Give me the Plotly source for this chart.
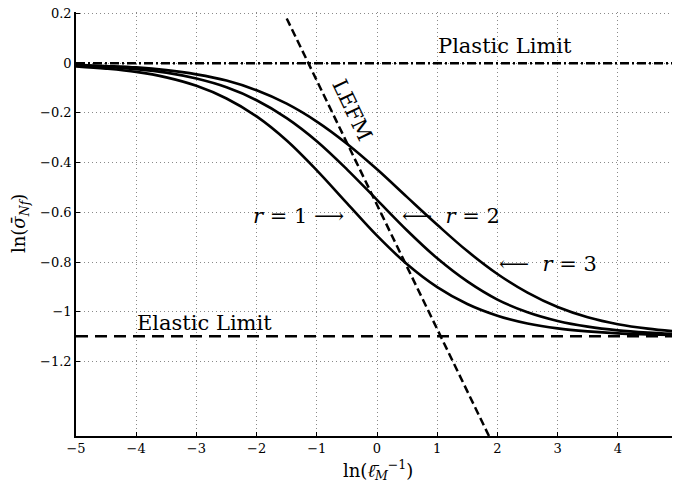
import plotly.graph_objects as go

# x grid of read points
x_pts = [-5, -4.5, -4, -3.5, -3, -2.5, -2, -1.5, -1, -0.5, 0, 0.5, 1, 1.5, 2, 2.5, 3, 3.5, 4, 4.5, 5]

r1 = [-0.013, -0.022, -0.035, -0.057, -0.091, -0.142, -0.214, -0.311, -0.431, -0.563, -0.694,
      -0.809, -0.901, -0.969, -1.016, -1.047, -1.067, -1.079, -1.087, -1.091, -1.094]
r2 = [-0.009, -0.015, -0.024, -0.038, -0.062, -0.097, -0.149, -0.221, -0.314, -0.427, -0.550,
      -0.673, -0.785, -0.878, -0.951, -1.002, -1.037, -1.060, -1.075, -1.084, -1.090]
r3 = [-0.006, -0.011, -0.017, -0.028, -0.045, -0.070, -0.109, -0.163, -0.235, -0.324, -0.427,
      -0.539, -0.650, -0.756, -0.848, -0.923, -0.981, -1.022, -1.050, -1.068, -1.080]

lefm_x = [-1.5, 1.86]
lefm_y = [0.18, -1.5]

plastic_y = 0.0
elastic_y = -1.0986
limit_x = [-5, 5]

x_ticks = [-5, -4, -3, -2, -1, 0, 1, 2, 3, 4, 5]
y_ticks = [0.2, 0, -0.2, -0.4, -0.6, -0.8, -1, -1.2]

FONT = "DejaVu Serif"
fig = go.Figure()

fig.add_trace(go.Scatter(x=limit_x, y=[plastic_y, plastic_y], mode="lines",
                         line=dict(color="black", width=2.5, dash="9px,3px,2px,3px"), showlegend=False))
fig.add_trace(go.Scatter(x=limit_x, y=[elastic_y, elastic_y], mode="lines",
                         line=dict(color="black", width=2.5, dash="12px,7px"), showlegend=False))
fig.add_trace(go.Scatter(x=lefm_x, y=lefm_y, mode="lines",
                         line=dict(color="black", width=2.5, dash="8px,4px"), showlegend=False))
for ys in (r1, r2, r3):
    fig.add_trace(go.Scatter(x=x_pts, y=ys, mode="lines",
                             line=dict(color="black", width=2.6, shape="spline", smoothing=1.0),
                             showlegend=False))

ann_font = dict(family=FONT, size=21, color="black")
annotations = [
    dict(x=2.13, y=0.071, text="Plastic Limit"),
    dict(x=-2.86, y=-1.047, text="Elastic Limit"),
    dict(x=-0.42, y=-0.19, text="LEFM", textangle=64.4),
    dict(x=-1.30, y=-0.613, text="<i>r</i> = 1 ⟶"),
    dict(x=1.23, y=-0.613, text="⟵  <i>r</i> = 2"),
    dict(x=2.84, y=-0.808, text="⟵  <i>r</i> = 3"),
]
for a in annotations:
    fig.add_annotation(xref="x", yref="y", showarrow=False, font=ann_font,
                       xanchor="center", yanchor="middle", **a)

# axis titles
fig.add_annotation(xref="paper", yref="paper", x=0.5, y=-0.080, showarrow=False,
                   xanchor="center", yanchor="middle",
                   text="ln(<i>ℓ̄</i><sub><i>M</i></sub><sup>−1</sup>)",
                   font=dict(family=FONT, size=18, color="black"))
fig.add_annotation(xref="paper", yref="paper", x=-0.0927, y=0.5, showarrow=False,
                   xanchor="center", yanchor="middle", textangle=-90,
                   text="ln(<i>σ̄</i><sub><i>Nf</i></sub>)",
                   font=dict(family=FONT, size=18, color="black"))

axis_common = dict(ticks="inside", ticklen=4, tickwidth=1, tickcolor="black",
                   showline=True, linecolor="black", linewidth=1.5,
                   showgrid=True, gridcolor="#8a8a8a", griddash="1px,3px", gridwidth=1,
                   zeroline=False, tickfont=dict(family=FONT, size=13, color="black"),
                   automargin=False, ticklabeloverflow="allow")

# The page has an 8px body margin: margins place the plot area where the
# reference has it; ranges are padded slightly so the edge grid lines show.
fig.update_layout(
    width=672, height=480,
    margin=dict(l=68, r=0, t=4, b=52),
    paper_bgcolor="white", plot_bgcolor="white",
    font=dict(family=FONT, size=13, color="black"),
    xaxis=dict(range=[-5, 5.033], tickvals=x_ticks, **axis_common),
    yaxis=dict(range=[-1.5, 0.206], tickvals=y_ticks, **axis_common),
)

fig.write_html("out.html")
